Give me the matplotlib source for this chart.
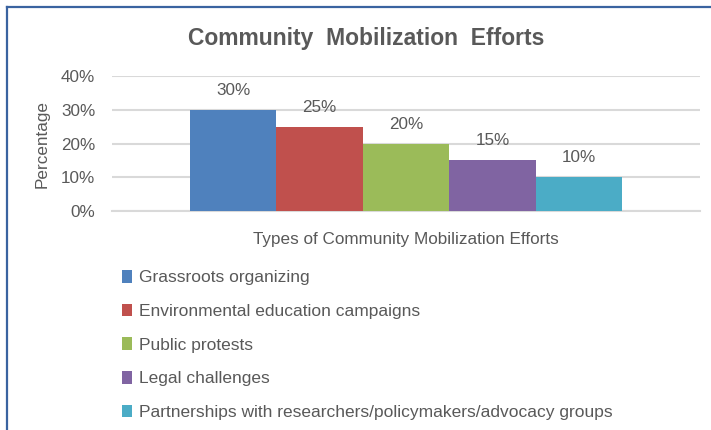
import matplotlib.pyplot as plt
from matplotlib.lines import Line2D
from matplotlib.ticker import PercentFormatter

plt.rcParams['font.family'] = ['Liberation Sans', 'DejaVu Sans']

# data
efforts = ['Grassroots organizing',
           'Environmental education campaigns',
           'Public protests',
           'Legal challenges',
           'Partnerships with researchers/policymakers/advocacy groups']
shares = [30, 25, 20, 15, 10]
colors = ['#4F81BD', '#C0504D', '#9BBB59', '#8064A2', '#4BACC6']
y_ticks = [0, 10, 20, 30, 40]

text_col = '#595959'
grid_col = '#D9D9D9'
fs = 12.3

fig = plt.figure(figsize=(7.11, 4.30), dpi=100)
ax = fig.add_axes([112/711, 1 - 211/430, 588/711, 135/430])

x = list(range(len(shares)))
bars = ax.bar(x, shares, width=1.0, color=colors, label=efforts, zorder=3)

pad = 0.9
ax.set_xlim(-0.5 - pad, len(shares) - 0.5 + pad)
ax.set_ylim(0, 40)
ax.set_yticks(y_ticks)
ax.yaxis.set_major_formatter(PercentFormatter(decimals=0))
ax.set_xticks([])

ax.grid(axis='y', color=grid_col, linewidth=1.5, zorder=0)
for s in ['top', 'right', 'left']:
    ax.spines[s].set_visible(False)
ax.spines['bottom'].set_color(grid_col)
ax.spines['bottom'].set_linewidth(1.5)
ax.tick_params(axis='y', length=0, labelsize=fs, labelcolor=text_col, pad=12)

for b, v in zip(bars, shares):
    ax.annotate(f'{v}%', xy=(b.get_x() + b.get_width() / 2, v),
                xytext=(0, 14), textcoords='offset points',
                ha='center', va='center', fontsize=fs, color=text_col)

ax.set_ylabel('Percentage', fontsize=fs, color=text_col, labelpad=8)
ax.set_xlabel('Types of Community Mobilization Efforts', fontsize=fs,
              color=text_col, labelpad=15)

fig.text(366/711, 1 - 38/430, 'Community  Mobilization  Efforts',
         ha='center', va='center', fontsize=16.5, fontweight='bold', color=text_col)

fig.legend(handles=bars, labels=efforts, loc='upper left',
           bbox_to_anchor=(122/711, 1 - 270/430), frameon=False,
           fontsize=12.5, labelcolor=text_col, labelspacing=1.05,
           handlelength=0.55, handleheight=0.75, handletextpad=0.45,
           borderaxespad=0, borderpad=0)

# chart border (blue edge, only top and left visible)
fig.add_artist(Line2D([7/711, 7/711], [0, 1 - 7/430], transform=fig.transFigure,
                      color='#3A63A0', linewidth=1.6))
fig.add_artist(Line2D([7/711, 1], [1 - 7/430, 1 - 7/430], transform=fig.transFigure,
                      color='#3A63A0', linewidth=1.6))

fig.savefig('out.png', dpi=100)
